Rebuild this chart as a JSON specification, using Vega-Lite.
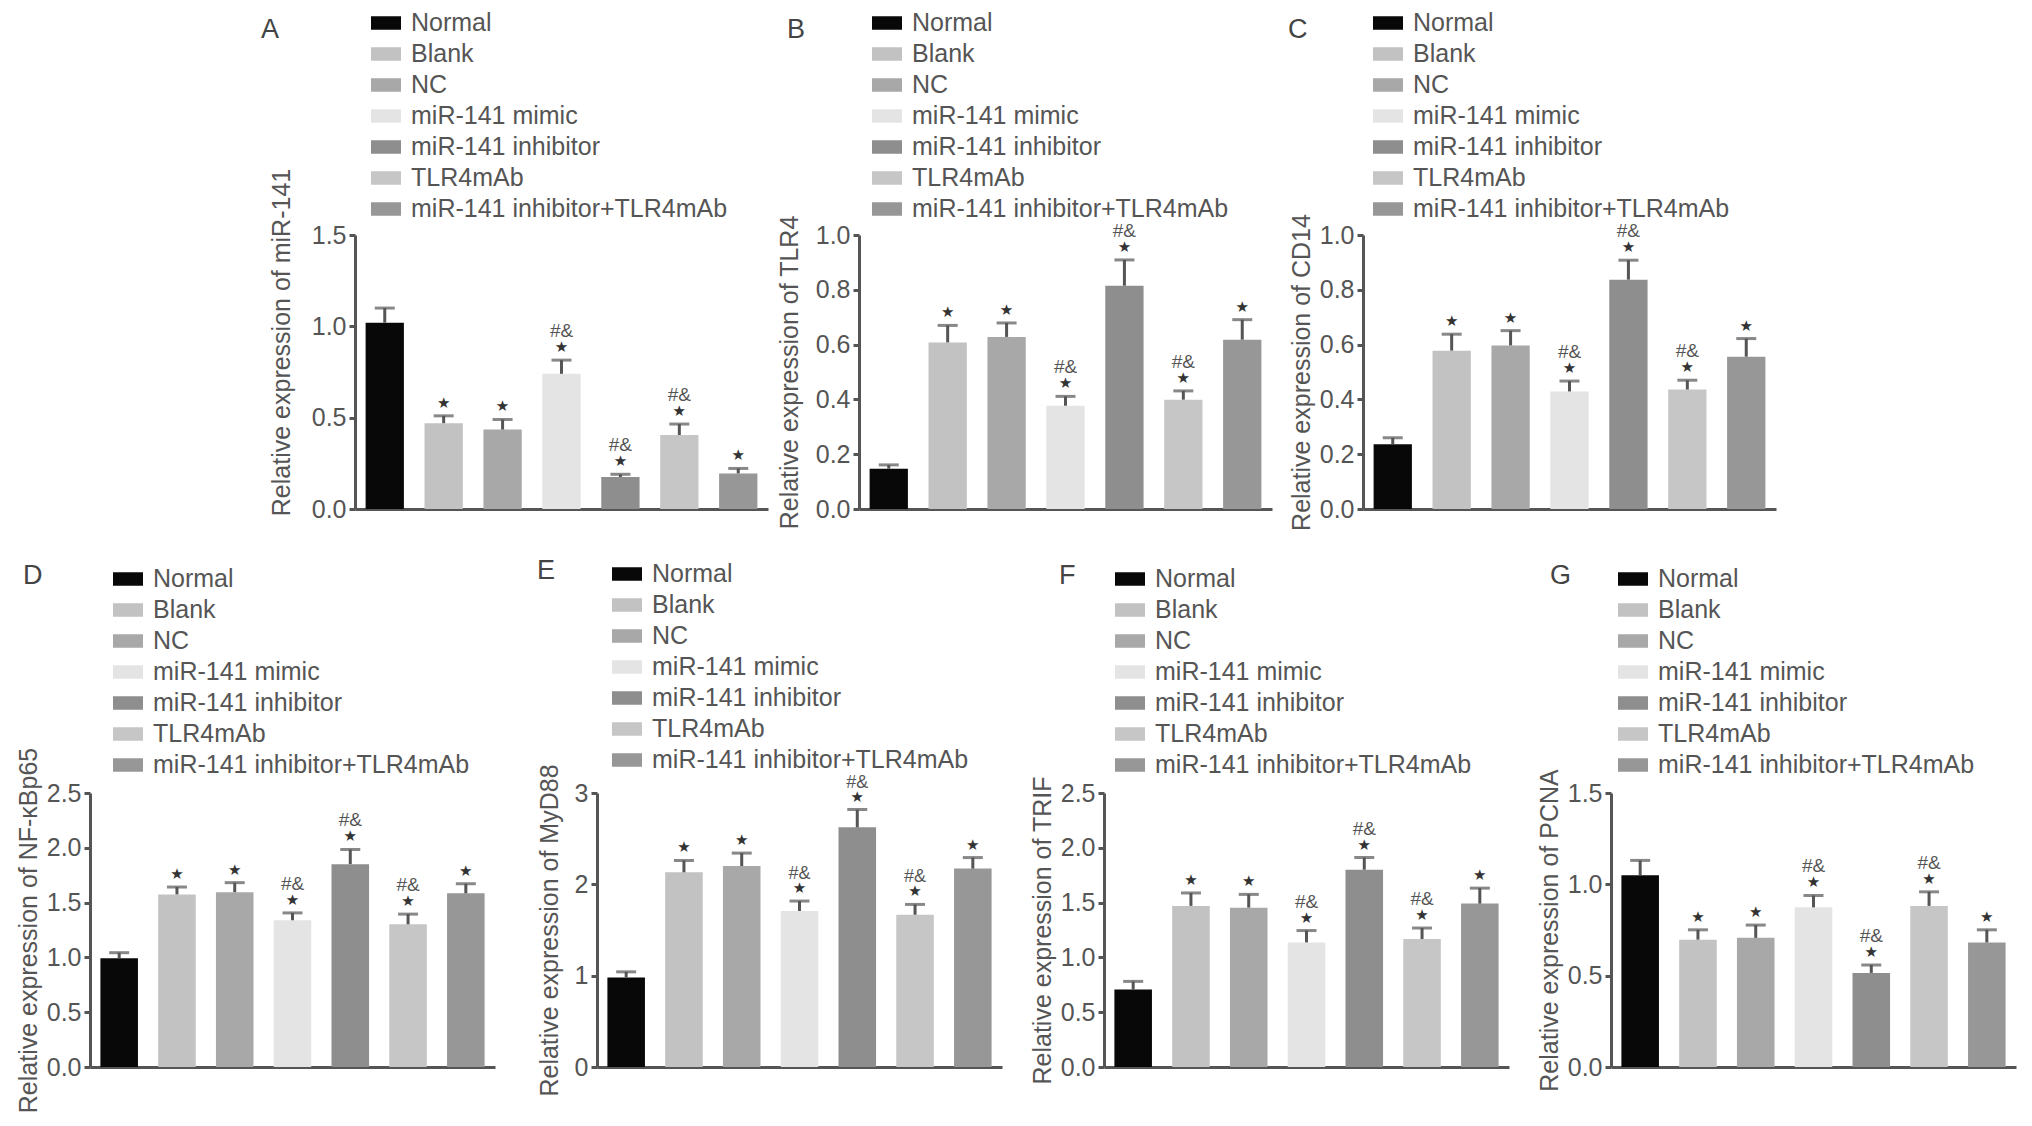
{
  "$schema": "https://vega.github.io/schema/vega-lite/v6.json",
  "background": "white",
  "padding": {"left": 16, "top": 8, "right": 3, "bottom": 5},
  "data": {"values": [
    {"panel": "A", "group": "Normal", "value": 1.02, "upper": 1.10, "s1": "", "s2": ""},
    {"panel": "A", "group": "Blank", "value": 0.47, "upper": 0.51, "s1": "★", "s2": ""},
    {"panel": "A", "group": "NC", "value": 0.435, "upper": 0.49, "s1": "★", "s2": ""},
    {"panel": "A", "group": "miR-141 mimic", "value": 0.74, "upper": 0.815, "s1": "★", "s2": "#&"},
    {"panel": "A", "group": "miR-141 inhibitor", "value": 0.175, "upper": 0.19, "s1": "★", "s2": "#&"},
    {"panel": "A", "group": "TLR4mAb", "value": 0.405, "upper": 0.465, "s1": "★", "s2": "#&"},
    {"panel": "A", "group": "miR-141 inhibitor+TLR4mAb", "value": 0.195, "upper": 0.222, "s1": "★", "s2": ""},
    {"panel": "B", "group": "Normal", "value": 0.147, "upper": 0.161, "s1": "", "s2": ""},
    {"panel": "B", "group": "Blank", "value": 0.608, "upper": 0.670, "s1": "★", "s2": ""},
    {"panel": "B", "group": "NC", "value": 0.628, "upper": 0.679, "s1": "★", "s2": ""},
    {"panel": "B", "group": "miR-141 mimic", "value": 0.377, "upper": 0.411, "s1": "★", "s2": "#&"},
    {"panel": "B", "group": "miR-141 inhibitor", "value": 0.815, "upper": 0.909, "s1": "★", "s2": "#&"},
    {"panel": "B", "group": "TLR4mAb", "value": 0.399, "upper": 0.431, "s1": "★", "s2": "#&"},
    {"panel": "B", "group": "miR-141 inhibitor+TLR4mAb", "value": 0.618, "upper": 0.691, "s1": "★", "s2": ""},
    {"panel": "C", "group": "Normal", "value": 0.236, "upper": 0.26, "s1": "", "s2": ""},
    {"panel": "C", "group": "Blank", "value": 0.578, "upper": 0.638, "s1": "★", "s2": ""},
    {"panel": "C", "group": "NC", "value": 0.597, "upper": 0.651, "s1": "★", "s2": ""},
    {"panel": "C", "group": "miR-141 mimic", "value": 0.429, "upper": 0.467, "s1": "★", "s2": "#&"},
    {"panel": "C", "group": "miR-141 inhibitor", "value": 0.837, "upper": 0.908, "s1": "★", "s2": "#&"},
    {"panel": "C", "group": "TLR4mAb", "value": 0.436, "upper": 0.47, "s1": "★", "s2": "#&"},
    {"panel": "C", "group": "miR-141 inhibitor+TLR4mAb", "value": 0.556, "upper": 0.622, "s1": "★", "s2": ""},
    {"panel": "D", "group": "Normal", "value": 0.993, "upper": 1.043, "s1": "", "s2": ""},
    {"panel": "D", "group": "Blank", "value": 1.575, "upper": 1.642, "s1": "★", "s2": ""},
    {"panel": "D", "group": "NC", "value": 1.595, "upper": 1.682, "s1": "★", "s2": ""},
    {"panel": "D", "group": "miR-141 mimic", "value": 1.339, "upper": 1.406, "s1": "★", "s2": "#&"},
    {"panel": "D", "group": "miR-141 inhibitor", "value": 1.851, "upper": 1.985, "s1": "★", "s2": "#&"},
    {"panel": "D", "group": "TLR4mAb", "value": 1.302, "upper": 1.395, "s1": "★", "s2": "#&"},
    {"panel": "D", "group": "miR-141 inhibitor+TLR4mAb", "value": 1.585, "upper": 1.672, "s1": "★", "s2": ""},
    {"panel": "E", "group": "Normal", "value": 0.981, "upper": 1.042, "s1": "", "s2": ""},
    {"panel": "E", "group": "Blank", "value": 2.132, "upper": 2.261, "s1": "★", "s2": ""},
    {"panel": "E", "group": "NC", "value": 2.200, "upper": 2.342, "s1": "★", "s2": ""},
    {"panel": "E", "group": "miR-141 mimic", "value": 1.708, "upper": 1.817, "s1": "★", "s2": "#&"},
    {"panel": "E", "group": "miR-141 inhibitor", "value": 2.624, "upper": 2.818, "s1": "★", "s2": "#&"},
    {"panel": "E", "group": "TLR4mAb", "value": 1.667, "upper": 1.780, "s1": "★", "s2": "#&"},
    {"panel": "E", "group": "miR-141 inhibitor+TLR4mAb", "value": 2.172, "upper": 2.293, "s1": "★", "s2": ""},
    {"panel": "F", "group": "Normal", "value": 0.707, "upper": 0.781, "s1": "", "s2": ""},
    {"panel": "F", "group": "Blank", "value": 1.470, "upper": 1.588, "s1": "★", "s2": ""},
    {"panel": "F", "group": "NC", "value": 1.454, "upper": 1.575, "s1": "★", "s2": ""},
    {"panel": "F", "group": "miR-141 mimic", "value": 1.137, "upper": 1.245, "s1": "★", "s2": "#&"},
    {"panel": "F", "group": "miR-141 inhibitor", "value": 1.800, "upper": 1.911, "s1": "★", "s2": "#&"},
    {"panel": "F", "group": "TLR4mAb", "value": 1.168, "upper": 1.268, "s1": "★", "s2": "#&"},
    {"panel": "F", "group": "miR-141 inhibitor+TLR4mAb", "value": 1.491, "upper": 1.632, "s1": "★", "s2": ""},
    {"panel": "G", "group": "Normal", "value": 1.050, "upper": 1.131, "s1": "", "s2": ""},
    {"panel": "G", "group": "Blank", "value": 0.697, "upper": 0.751, "s1": "★", "s2": ""},
    {"panel": "G", "group": "NC", "value": 0.707, "upper": 0.777, "s1": "★", "s2": ""},
    {"panel": "G", "group": "miR-141 mimic", "value": 0.874, "upper": 0.939, "s1": "★", "s2": "#&"},
    {"panel": "G", "group": "miR-141 inhibitor", "value": 0.515, "upper": 0.559, "s1": "★", "s2": "#&"},
    {"panel": "G", "group": "TLR4mAb", "value": 0.882, "upper": 0.959, "s1": "★", "s2": "#&"},
    {"panel": "G", "group": "miR-141 inhibitor+TLR4mAb", "value": 0.682, "upper": 0.751, "s1": "★", "s2": ""}
  ]},
  "vconcat": [
    {
      "hconcat": [
        {
          "width": 174, "height": 274,
          "data": {"values": []},
          "mark": {"type": "point", "opacity": 0},
          "encoding": {}
        },
        {
          "width": 413, "height": 274,
          "title": {"text": "A", "anchor": "start", "frame": "group", "dx": -94, "offset": -36},
          "transform": [{"filter": "datum.panel === 'A'"}],
          "encoding": {"x": {"field": "group", "type": "nominal", "scale": {"domain": ["Normal","Blank","NC","miR-141 mimic","miR-141 inhibitor","TLR4mAb","miR-141 inhibitor+TLR4mAb"], "paddingInner": 0.35, "paddingOuter": 0.18}, "axis": {"title": null, "labels": false, "ticks": false}}},
          "layer": [
            {"mark": {"type": "bar"}, "encoding": {
              "y": {"field": "value", "type": "quantitative", "scale": {"domain": [0, 1.5], "nice": false}, "axis": {"title": "Relative expression of miR-141", "values": [0, 0.5, 1, 1.5], "format": ".1f", "titleY": 107, "titlePadding": 17}},
              "color": {"field": "group", "type": "nominal", "scale": {"domain": ["Normal","Blank","NC","miR-141 mimic","miR-141 inhibitor","TLR4mAb","miR-141 inhibitor+TLR4mAb"], "range": ["#080808","#c2c2c2","#a8a8a8","#e4e4e4","#8e8e8e","#c6c6c6","#979797"]}, "legend": {"title": null, "legendX": 16, "legendY": -227}}}},
            {"mark": {"type": "rule", "strokeWidth": 3, "color": "#555555"}, "encoding": {"y": {"field": "value", "type": "quantitative"}, "y2": {"field": "upper"}}},
            {"mark": {"type": "tick", "orient": "horizontal", "size": 20, "thickness": 3, "color": "#555555"}, "encoding": {"y": {"field": "upper", "type": "quantitative"}}},
            {"mark": {"type": "text", "font": "DejaVu Sans", "fontSize": 15, "color": "#333333", "baseline": "middle", "dy": -13}, "encoding": {"y": {"field": "upper", "type": "quantitative"}, "text": {"field": "s1"}}},
            {"mark": {"type": "text", "fontSize": 19, "color": "#555555", "baseline": "middle", "dy": -29}, "encoding": {"y": {"field": "upper", "type": "quantitative"}, "text": {"field": "s2"}}}
          ]
        },
        {
          "width": 413, "height": 274,
          "title": {"text": "B", "anchor": "start", "frame": "group", "dx": -72, "offset": -36},
          "transform": [{"filter": "datum.panel === 'B'"}],
          "encoding": {"x": {"field": "group", "type": "nominal", "scale": {"domain": ["Normal","Blank","NC","miR-141 mimic","miR-141 inhibitor","TLR4mAb","miR-141 inhibitor+TLR4mAb"], "paddingInner": 0.35, "paddingOuter": 0.18}, "axis": {"title": null, "labels": false, "ticks": false}}},
          "layer": [
            {"mark": {"type": "bar"}, "encoding": {
              "y": {"field": "value", "type": "quantitative", "scale": {"domain": [0, 1.0], "nice": false}, "axis": {"title": "Relative expression of TLR4", "values": [0, 0.2, 0.4, 0.6, 0.8, 1.0], "format": ".1f", "titlePadding": 13}},
              "color": {"field": "group", "type": "nominal", "scale": {"domain": ["Normal","Blank","NC","miR-141 mimic","miR-141 inhibitor","TLR4mAb","miR-141 inhibitor+TLR4mAb"], "range": ["#080808","#c2c2c2","#a8a8a8","#e4e4e4","#8e8e8e","#c6c6c6","#979797"]}, "legend": {"title": null, "legendX": 13, "legendY": -227}}}},
            {"mark": {"type": "rule", "strokeWidth": 3, "color": "#555555"}, "encoding": {"y": {"field": "value", "type": "quantitative"}, "y2": {"field": "upper"}}},
            {"mark": {"type": "tick", "orient": "horizontal", "size": 20, "thickness": 3, "color": "#555555"}, "encoding": {"y": {"field": "upper", "type": "quantitative"}}},
            {"mark": {"type": "text", "font": "DejaVu Sans", "fontSize": 15, "color": "#333333", "baseline": "middle", "dy": -13}, "encoding": {"y": {"field": "upper", "type": "quantitative"}, "text": {"field": "s1"}}},
            {"mark": {"type": "text", "fontSize": 19, "color": "#555555", "baseline": "middle", "dy": -29}, "encoding": {"y": {"field": "upper", "type": "quantitative"}, "text": {"field": "s2"}}}
          ]
        },
        {
          "width": 413, "height": 274,
          "title": {"text": "C", "anchor": "start", "frame": "group", "dx": -75, "offset": -36},
          "transform": [{"filter": "datum.panel === 'C'"}],
          "encoding": {"x": {"field": "group", "type": "nominal", "scale": {"domain": ["Normal","Blank","NC","miR-141 mimic","miR-141 inhibitor","TLR4mAb","miR-141 inhibitor+TLR4mAb"], "paddingInner": 0.35, "paddingOuter": 0.18}, "axis": {"title": null, "labels": false, "ticks": false}}},
          "layer": [
            {"mark": {"type": "bar"}, "encoding": {
              "y": {"field": "value", "type": "quantitative", "scale": {"domain": [0, 1.0], "nice": false}, "axis": {"title": "Relative expression of CD14", "values": [0, 0.2, 0.4, 0.6, 0.8, 1.0], "format": ".1f"}},
              "color": {"field": "group", "type": "nominal", "scale": {"domain": ["Normal","Blank","NC","miR-141 mimic","miR-141 inhibitor","TLR4mAb","miR-141 inhibitor+TLR4mAb"], "range": ["#080808","#c2c2c2","#a8a8a8","#e4e4e4","#8e8e8e","#c6c6c6","#979797"]}, "legend": {"title": null, "legendX": 10, "legendY": -227}}}},
            {"mark": {"type": "rule", "strokeWidth": 3, "color": "#555555"}, "encoding": {"y": {"field": "value", "type": "quantitative"}, "y2": {"field": "upper"}}},
            {"mark": {"type": "tick", "orient": "horizontal", "size": 20, "thickness": 3, "color": "#555555"}, "encoding": {"y": {"field": "upper", "type": "quantitative"}}},
            {"mark": {"type": "text", "font": "DejaVu Sans", "fontSize": 15, "color": "#333333", "baseline": "middle", "dy": -13}, "encoding": {"y": {"field": "upper", "type": "quantitative"}, "text": {"field": "s1"}}},
            {"mark": {"type": "text", "fontSize": 19, "color": "#555555", "baseline": "middle", "dy": -29}, "encoding": {"y": {"field": "upper", "type": "quantitative"}, "text": {"field": "s2"}}}
          ]
        }
      ],
      "spacing": 91,
      "bounds": "flush",
      "resolve": {"scale": {"x": "independent", "y": "independent", "color": "independent"}, "legend": {"color": "independent"}}
    },
    {
      "hconcat": [
        {
          "width": 405, "height": 274,
          "title": {"text": "D", "anchor": "start", "frame": "group", "dx": -67, "offset": -26},
          "transform": [{"filter": "datum.panel === 'D'"}],
          "encoding": {"x": {"field": "group", "type": "nominal", "scale": {"domain": ["Normal","Blank","NC","miR-141 mimic","miR-141 inhibitor","TLR4mAb","miR-141 inhibitor+TLR4mAb"], "paddingInner": 0.35, "paddingOuter": 0.18}, "axis": {"title": null, "labels": false, "ticks": false}}},
          "layer": [
            {"mark": {"type": "bar"}, "encoding": {
              "y": {"field": "value", "type": "quantitative", "scale": {"domain": [0, 2.5], "nice": false}, "axis": {"title": "Relative expression of NF-κBp65", "values": [0, 0.5, 1, 1.5, 2, 2.5], "format": ".1f"}},
              "color": {"field": "group", "type": "nominal", "scale": {"domain": ["Normal","Blank","NC","miR-141 mimic","miR-141 inhibitor","TLR4mAb","miR-141 inhibitor+TLR4mAb"], "range": ["#080808","#c2c2c2","#a8a8a8","#e4e4e4","#8e8e8e","#c6c6c6","#979797"]}, "legend": {"title": null, "legendX": 23, "legendY": -229}}}},
            {"mark": {"type": "rule", "strokeWidth": 3, "color": "#555555"}, "encoding": {"y": {"field": "value", "type": "quantitative"}, "y2": {"field": "upper"}}},
            {"mark": {"type": "tick", "orient": "horizontal", "size": 20, "thickness": 3, "color": "#555555"}, "encoding": {"y": {"field": "upper", "type": "quantitative"}}},
            {"mark": {"type": "text", "font": "DejaVu Sans", "fontSize": 15, "color": "#333333", "baseline": "middle", "dy": -13}, "encoding": {"y": {"field": "upper", "type": "quantitative"}, "text": {"field": "s1"}}},
            {"mark": {"type": "text", "fontSize": 19, "color": "#555555", "baseline": "middle", "dy": -29}, "encoding": {"y": {"field": "upper", "type": "quantitative"}, "text": {"field": "s2"}}}
          ]
        },
        {
          "width": 405, "height": 274,
          "title": {"text": "E", "anchor": "start", "frame": "group", "dx": -60, "offset": -26},
          "transform": [{"filter": "datum.panel === 'E'"}],
          "encoding": {"x": {"field": "group", "type": "nominal", "scale": {"domain": ["Normal","Blank","NC","miR-141 mimic","miR-141 inhibitor","TLR4mAb","miR-141 inhibitor+TLR4mAb"], "paddingInner": 0.35, "paddingOuter": 0.18}, "axis": {"title": null, "labels": false, "ticks": false}}},
          "layer": [
            {"mark": {"type": "bar"}, "encoding": {
              "y": {"field": "value", "type": "quantitative", "scale": {"domain": [0, 3], "nice": false}, "axis": {"title": "Relative expression of MyD88", "values": [0, 1, 2, 3], "format": "d", "titlePadding": 12}},
              "color": {"field": "group", "type": "nominal", "scale": {"domain": ["Normal","Blank","NC","miR-141 mimic","miR-141 inhibitor","TLR4mAb","miR-141 inhibitor+TLR4mAb"], "range": ["#080808","#c2c2c2","#a8a8a8","#e4e4e4","#8e8e8e","#c6c6c6","#979797"]}, "legend": {"title": null, "legendX": 15, "legendY": -234}}}},
            {"mark": {"type": "rule", "strokeWidth": 3, "color": "#555555"}, "encoding": {"y": {"field": "value", "type": "quantitative"}, "y2": {"field": "upper"}}},
            {"mark": {"type": "tick", "orient": "horizontal", "size": 20, "thickness": 3, "color": "#555555"}, "encoding": {"y": {"field": "upper", "type": "quantitative"}}},
            {"mark": {"type": "text", "font": "DejaVu Sans", "fontSize": 15, "color": "#333333", "baseline": "middle", "dy": -13}, "encoding": {"y": {"field": "upper", "type": "quantitative"}, "text": {"field": "s1"}}},
            {"mark": {"type": "text", "fontSize": 18, "color": "#555555", "baseline": "middle", "dy": -27}, "encoding": {"y": {"field": "upper", "type": "quantitative"}, "text": {"field": "s2"}}}
          ]
        },
        {
          "width": 405, "height": 274,
          "title": {"text": "F", "anchor": "start", "frame": "group", "dx": -45, "offset": -26},
          "transform": [{"filter": "datum.panel === 'F'"}],
          "encoding": {"x": {"field": "group", "type": "nominal", "scale": {"domain": ["Normal","Blank","NC","miR-141 mimic","miR-141 inhibitor","TLR4mAb","miR-141 inhibitor+TLR4mAb"], "paddingInner": 0.35, "paddingOuter": 0.18}, "axis": {"title": null, "labels": false, "ticks": false}}},
          "layer": [
            {"mark": {"type": "bar"}, "encoding": {
              "y": {"field": "value", "type": "quantitative", "scale": {"domain": [0, 2.5], "nice": false}, "axis": {"title": "Relative expression of TRIF", "values": [0, 0.5, 1, 1.5, 2, 2.5], "format": ".1f"}},
              "color": {"field": "group", "type": "nominal", "scale": {"domain": ["Normal","Blank","NC","miR-141 mimic","miR-141 inhibitor","TLR4mAb","miR-141 inhibitor+TLR4mAb"], "range": ["#080808","#c2c2c2","#a8a8a8","#e4e4e4","#8e8e8e","#c6c6c6","#979797"]}, "legend": {"title": null, "legendX": 11, "legendY": -229}}}},
            {"mark": {"type": "rule", "strokeWidth": 3, "color": "#555555"}, "encoding": {"y": {"field": "value", "type": "quantitative"}, "y2": {"field": "upper"}}},
            {"mark": {"type": "tick", "orient": "horizontal", "size": 20, "thickness": 3, "color": "#555555"}, "encoding": {"y": {"field": "upper", "type": "quantitative"}}},
            {"mark": {"type": "text", "font": "DejaVu Sans", "fontSize": 15, "color": "#333333", "baseline": "middle", "dy": -13}, "encoding": {"y": {"field": "upper", "type": "quantitative"}, "text": {"field": "s1"}}},
            {"mark": {"type": "text", "fontSize": 19, "color": "#555555", "baseline": "middle", "dy": -29}, "encoding": {"y": {"field": "upper", "type": "quantitative"}, "text": {"field": "s2"}}}
          ]
        },
        {
          "width": 405, "height": 274,
          "title": {"text": "G", "anchor": "start", "frame": "group", "dx": -61, "offset": -26},
          "transform": [{"filter": "datum.panel === 'G'"}],
          "encoding": {"x": {"field": "group", "type": "nominal", "scale": {"domain": ["Normal","Blank","NC","miR-141 mimic","miR-141 inhibitor","TLR4mAb","miR-141 inhibitor+TLR4mAb"], "paddingInner": 0.35, "paddingOuter": 0.18}, "axis": {"title": null, "labels": false, "ticks": false}}},
          "layer": [
            {"mark": {"type": "bar"}, "encoding": {
              "y": {"field": "value", "type": "quantitative", "scale": {"domain": [0, 1.5], "nice": false}, "axis": {"title": "Relative expression of PCNA", "values": [0, 0.5, 1, 1.5], "format": ".1f"}},
              "color": {"field": "group", "type": "nominal", "scale": {"domain": ["Normal","Blank","NC","miR-141 mimic","miR-141 inhibitor","TLR4mAb","miR-141 inhibitor+TLR4mAb"], "range": ["#080808","#c2c2c2","#a8a8a8","#e4e4e4","#8e8e8e","#c6c6c6","#979797"]}, "legend": {"title": null, "legendX": 7, "legendY": -229}}}},
            {"mark": {"type": "rule", "strokeWidth": 3, "color": "#555555"}, "encoding": {"y": {"field": "value", "type": "quantitative"}, "y2": {"field": "upper"}}},
            {"mark": {"type": "tick", "orient": "horizontal", "size": 20, "thickness": 3, "color": "#555555"}, "encoding": {"y": {"field": "upper", "type": "quantitative"}}},
            {"mark": {"type": "text", "font": "DejaVu Sans", "fontSize": 15, "color": "#333333", "baseline": "middle", "dy": -13}, "encoding": {"y": {"field": "upper", "type": "quantitative"}, "text": {"field": "s1"}}},
            {"mark": {"type": "text", "fontSize": 19, "color": "#555555", "baseline": "middle", "dy": -29}, "encoding": {"y": {"field": "upper", "type": "quantitative"}, "text": {"field": "s2"}}}
          ]
        }
      ],
      "spacing": 102,
      "bounds": "flush",
      "resolve": {"scale": {"x": "independent", "y": "independent", "color": "independent"}, "legend": {"color": "independent"}}
    }
  ],
  "spacing": 26,
  "resolve": {"scale": {"x": "independent", "y": "independent", "color": "independent"}, "legend": {"color": "independent"}},
  "config": {
    "font": "Liberation Sans",
    "view": {"stroke": null},
    "title": {"fontSize": 27, "fontWeight": "normal", "color": "#444444", "font": "Liberation Sans"},
    "axis": {"grid": false, "domainColor": "#555555", "domainWidth": 3, "tickColor": "#555555", "tickWidth": 3, "tickSize": 6, "labelFontSize": 25, "labelColor": "#555555", "labelPadding": 3, "titleFontSize": 25, "titleColor": "#555555", "titleFontWeight": "normal", "titlePadding": 5, "labelFont": "Liberation Sans", "titleFont": "Liberation Sans"},
    "legend": {"orient": "none", "symbolType": "M-1,-0.45H1V0.45H-1Z", "symbolSize": 900, "symbolStrokeWidth": 0, "symbolOpacity": 1, "labelFontSize": 25, "labelColor": "#555555", "labelOffset": 10, "rowPadding": 3, "padding": 0, "labelLimit": 600, "labelFont": "Liberation Sans"}
  }
}
